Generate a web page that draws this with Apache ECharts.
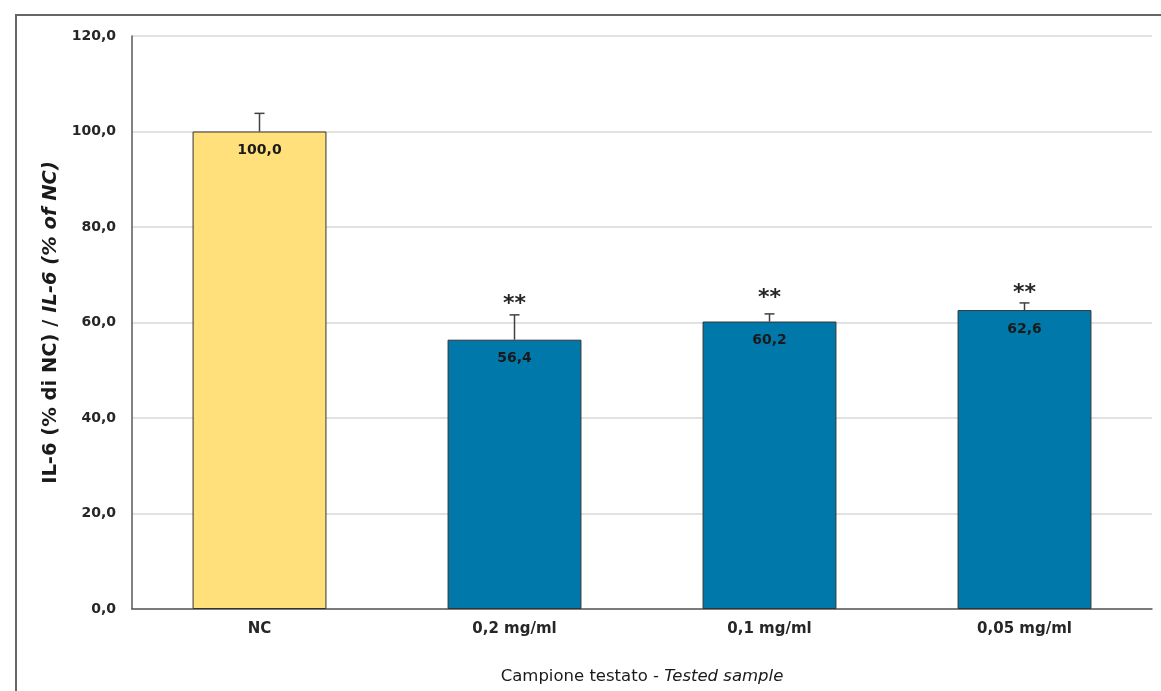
<!DOCTYPE html>
<html>
<head>
<meta charset="utf-8">
<script src="https://cdn.jsdelivr.net/npm/echarts@6/dist/echarts.min.js"></script>
<style>
html,body{margin:0;padding:0;background:#fff;}
#chart{width:1161px;height:691px;}
</style>
</head>
<body>
<div id="chart"></div>
<script>
var categories = ['NC', '0,2 mg/ml', '0,1 mg/ml', '0,05 mg/ml'];
var values = [100.0, 56.4, 60.2, 62.6];
var errorTop = [103.8, 61.6, 61.8, 64.1];
var starLabels = ['', '**', '**', '**'];
var starY = [null, 64.4, 65.8, 66.8];
var barColors = ['#FFE07A', '#0079AA'];
var yTicks = { min: 0, max: 120, interval: 20 };

var FONT = 'DejaVu Sans';
function fmt(v) { return v.toFixed(1).replace('.', ','); }

var barData = values.map(function (v, i) {
  return { value: v, itemStyle: { color: i === 0 ? barColors[0] : barColors[1] } };
});
var errData = values.map(function (v, i) {
  return [i, v, errorTop[i], starY[i], starLabels[i]];
});

var chart = echarts.init(document.getElementById('chart'));
chart.setOption({
  animation: false,
  backgroundColor: '#fff',
  graphic: [{
    type: 'rect',
    shape: { x: 16, y: 15, width: 1300, height: 800 },
    style: { fill: 'none', stroke: '#666', lineWidth: 2 },
    silent: true, z: 100
  }],
  grid: { left: 132, right: 9, top: 36, bottom: 82 },
  xAxis: {
    type: 'category',
    data: categories,
    axisLine: { lineStyle: { color: '#595959', width: 1.5 } },
    axisTick: { show: false },
    axisLabel: { fontFamily: FONT, fontWeight: 'bold', fontSize: 15, color: '#262626', margin: 13 },
    name: '{a|Campione testato - }{b|Tested sample}',
    nameLocation: 'middle',
    nameGap: 59,
    nameTextStyle: {
      rich: {
        a: { fontFamily: FONT, fontSize: 16.5, color: '#1a1a1a' },
        b: { fontFamily: FONT, fontSize: 16.5, fontStyle: 'italic', color: '#1a1a1a' }
      }
    }
  },
  yAxis: {
    type: 'value',
    min: yTicks.min, max: yTicks.max, interval: yTicks.interval,
    axisLine: { show: true, lineStyle: { color: '#595959', width: 1.5 } },
    axisTick: { show: false },
    splitLine: { lineStyle: { color: '#d9d9d9', width: 1.5 } },
    axisLabel: {
      fontFamily: FONT, fontWeight: 'bold', fontSize: 14, color: '#262626', margin: 16,
      formatter: function (v) { return fmt(v); }
    },
    name: '{a|IL-6 (% di NC) / }{b|IL-6 (% of NC)}',
    nameLocation: 'middle',
    nameGap: 63,
    nameTextStyle: {
      rich: {
        a: { fontFamily: FONT, fontSize: 19.5, fontWeight: 'bold', color: '#1a1a1a' },
        b: { fontFamily: FONT, fontSize: 19.5, fontWeight: 'bold', fontStyle: 'italic', color: '#1a1a1a' }
      }
    }
  },
  series: [{
    type: 'bar',
    data: barData,
    barWidth: '52.5%',
    itemStyle: { borderColor: '#333', borderWidth: 1 },
    label: {
      show: true, position: 'insideTop', distance: 12,
      fontFamily: FONT, fontWeight: 'bold', fontSize: 14, color: '#1a1a1a',
      formatter: function (p) { return fmt(p.value); }
    },
    z: 2
  }, {
    type: 'custom',
    data: errData,
    z: 3,
    renderItem: function (params, api) {
      var i = api.value(0);
      var base = api.coord([i, api.value(1)]);
      var top = api.coord([i, api.value(2)]);
      var children = [
        { type: 'line', shape: { x1: base[0], y1: base[1], x2: top[0], y2: top[1] },
          style: { stroke: '#404040', lineWidth: 1.5 } },
        { type: 'line', shape: { x1: top[0] - 5, y1: top[1], x2: top[0] + 5, y2: top[1] },
          style: { stroke: '#404040', lineWidth: 1.5 } }
      ];
      var lbl = errData[params.dataIndex][4];
      var sy = errData[params.dataIndex][3];
      if (lbl && sy != null) {
        var sp = api.coord([i, sy]);
        children.push({ type: 'text', x: sp[0], y: sp[1] + 3,
          style: { text: lbl, fill: '#262626', font: 'bold 22px "DejaVu Sans"', align: 'center', verticalAlign: 'middle' } });
      }
      return { type: 'group', children: children };
    }
  }]
});
</script>
</body>
</html>
